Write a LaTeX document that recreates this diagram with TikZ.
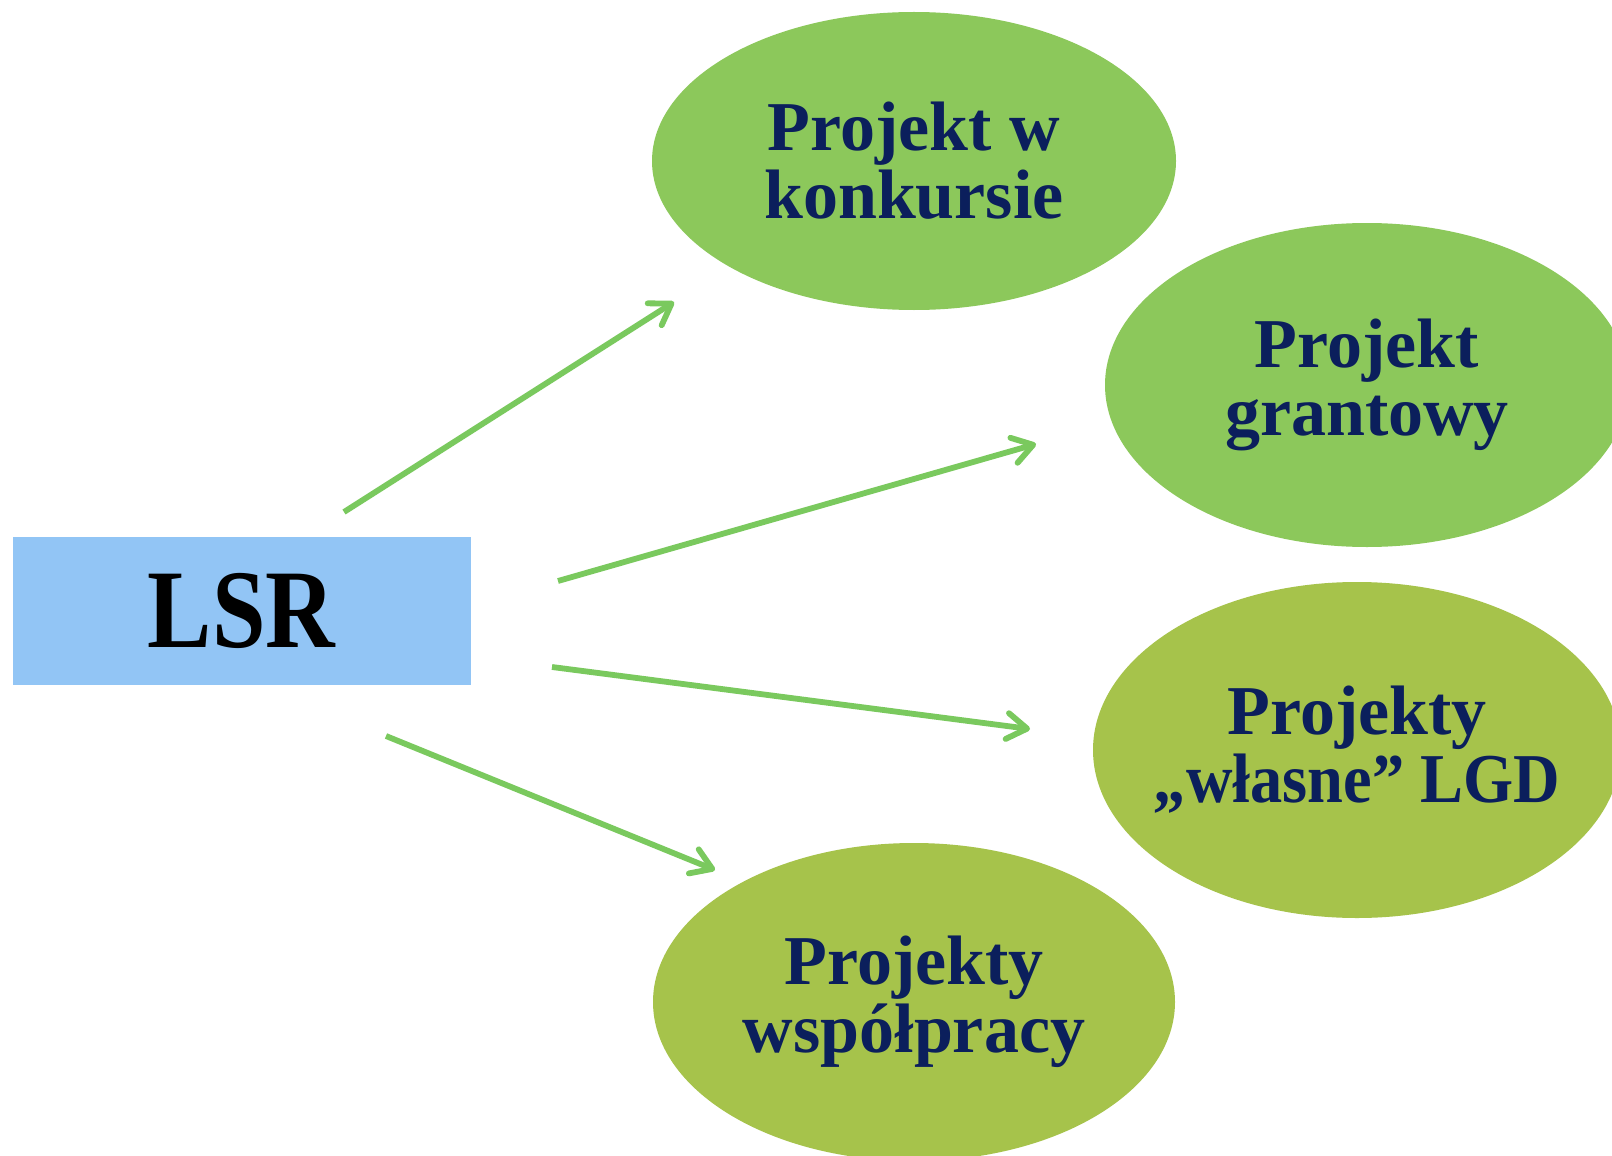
\documentclass[tikz,border=0pt]{standalone}
\usepackage{fontspec}
\setmainfont{Liberation Serif}
\usepackage{graphicx}
\usetikzlibrary{arrows.meta,shapes.geometric}
\definecolor{lsrblue}{HTML}{92C5F5}
\definecolor{leafgreen}{HTML}{8CC85B}
\definecolor{olivegreen}{HTML}{A6C34B}
\definecolor{arrowgreen}{HTML}{7AC95E}
\definecolor{navytext}{HTML}{0B1F5C}

\begin{document}
\begin{tikzpicture}[x=0.5pt,y=-0.5pt]
	\useasboundingbox (0,0) rectangle (1612,1156);
	\clip (0,0) rectangle (1612,1156);
	\fill[white] (0,0) rectangle (1612,1156);

	\node[rectangle,fill=lsrblue,minimum width=229pt,minimum height=74pt,
	      font=\fontsize{56}{60}\selectfont\bfseries] (0) at (241.6,610.6) {\scalebox{0.86}[1]{LSR}};

	\begin{scope}[every node/.style={ellipse,inner xsep=-20pt,inner ysep=0pt,align=center,text=navytext,
	              font=\fontsize{35}{34}\selectfont\bfseries}]
	    \node[fill=leafgreen,minimum width=262pt,minimum height=149pt] (1) at (914,161) {Projekt w\\konkursie};
	    \node[fill=leafgreen,minimum width=262pt,minimum height=162pt] (2) at (1367,385) {Projekt\\grantowy};
	    \node[fill=olivegreen,minimum width=264pt,minimum height=168pt] (3) at (1357,750) {Projekty\\\scalebox{0.92}[1]{„własne” LGD}};
	    \node[fill=olivegreen,minimum width=261pt,minimum height=159pt] (4) at (914,1002) {Projekty\\współpracy};
	\end{scope}

	% free ends of the arrows
	\coordinate (s1) at (344,512);   \coordinate (t1) at (674,302);
	\coordinate (s2) at (558,581);   \coordinate (t2) at (1036,444);
	\coordinate (s3) at (552,667);   \coordinate (t3) at (1030,729);
	\coordinate (s4) at (386,736);   \coordinate (t4) at (715,870);

	\begin{scope}[>={Straight Barb[length=10pt,width=13pt,line cap=round,line join=round]},
	              every edge/.style={draw=arrowgreen,line width=2.9pt,->}]
	    \path (s1) edge (t1);
	    \path (s2) edge (t2);
	    \path (s3) edge (t3);
	    \path (s4) edge (t4);
	\end{scope}
\end{tikzpicture}
\end{document}
